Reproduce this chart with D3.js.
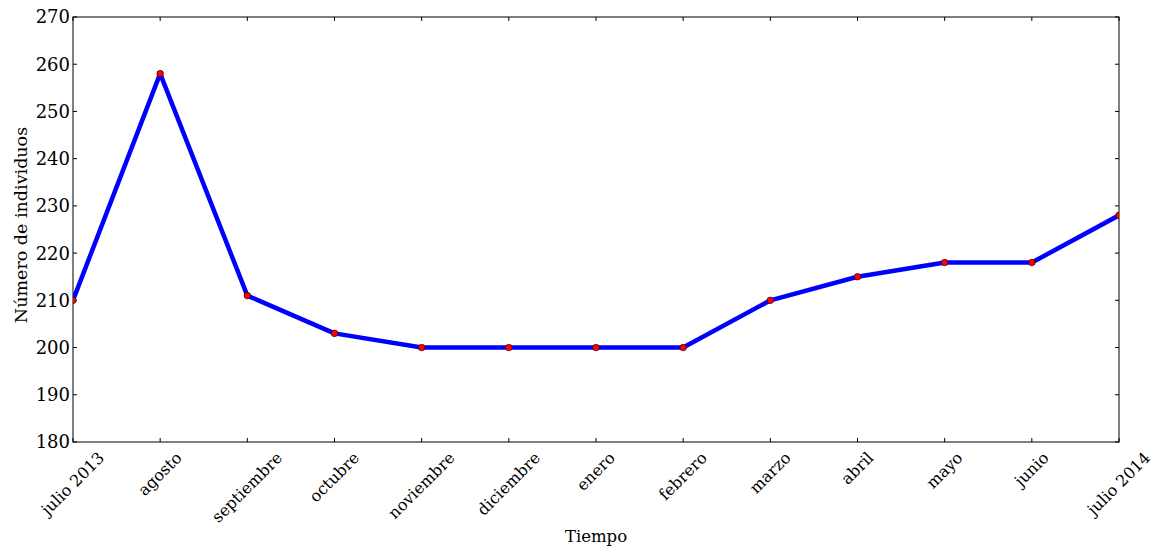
<!DOCTYPE html>
<html>
<head>
<meta charset="utf-8">
<script src="https://cdn.jsdelivr.net/npm/d3@7"></script>
<style>
  html, body { margin: 0; padding: 0; background: #fff; }
  svg { display: block; }
  text { font-family: "DejaVu Serif", serif; fill: #000; }
</style>
</head>
<body>
<svg id="chart" width="1154" height="548"></svg>
<script>
// Monthly head count, July 2013 – July 2014
const months = ["julio 2013", "agosto", "septiembre", "octubre", "noviembre",
  "diciembre", "enero", "febrero", "marzo", "abril", "mayo", "junio", "julio 2014"];
const individuals = [210, 258, 211, 203, 200, 200, 200, 200, 210, 215, 218, 218, 228];
const yTicks = [180, 190, 200, 210, 220, 230, 240, 250, 260, 270];

const W = 1154, H = 548;
const margin = { left: 73, top: 17, right: 35, bottom: 106 };
const iw = W - margin.left - margin.right;
const ih = H - margin.top - margin.bottom;

const svg = d3.select("#chart");
const g = svg.append("g").attr("transform", `translate(${margin.left},${margin.top})`);

const x = d3.scalePoint().domain(months).range([0, iw]);
const y = d3.scaleLinear().domain([180, 270]).range([ih, 0]);

svg.append("defs").append("clipPath").attr("id", "plotclip")
  .append("rect").attr("width", iw).attr("height", ih);

const tickLen = 4;
const yTickFont = 18;
const xTickFont = 16;

// Frame
g.append("rect").attr("width", iw).attr("height", ih)
  .attr("fill", "none").attr("stroke", "#000").attr("stroke-width", 1);

// Inward ticks on all four sides
const ticksG = g.append("g").attr("stroke", "#000").attr("stroke-width", 1);
months.forEach(m => {
  const px = x(m);
  ticksG.append("line").attr("x1", px).attr("x2", px).attr("y1", ih).attr("y2", ih - tickLen);
  ticksG.append("line").attr("x1", px).attr("x2", px).attr("y1", 0).attr("y2", tickLen);
});
yTicks.forEach(v => {
  const py = y(v);
  ticksG.append("line").attr("x1", 0).attr("x2", tickLen).attr("y1", py).attr("y2", py);
  ticksG.append("line").attr("x1", iw).attr("x2", iw - tickLen).attr("y1", py).attr("y2", py);
});

// Y tick labels
g.append("g").selectAll("text").data(yTicks).join("text")
  .attr("x", -3).attr("y", d => y(d)).attr("dy", "0.36em")
  .attr("text-anchor", "end").attr("font-size", yTickFont)
  .text(d => d);

// X tick labels, rotated 45°, box centred under each tick
const xl = g.append("g");
months.forEach(m => {
  const t = xl.append("text").attr("text-anchor", "middle")
    .attr("font-size", xTickFont).attr("dy", "0.32em").text(m);
  const w = t.node().getComputedTextLength();
  const h = xTickFont * 1.1;
  const half = (w + h) / (2 * Math.SQRT2);
  t.attr("transform", `translate(${x(m)},${ih + 7 + half}) rotate(-45)`);
});

// Series line and markers
const plot = g.append("g").attr("clip-path", "url(#plotclip)");
const line = d3.line().x((d, i) => x(months[i])).y(d => y(d));
plot.append("path").datum(individuals).attr("d", line)
  .attr("fill", "none").attr("stroke", "#0000ff").attr("stroke-width", 4.5)
  .attr("stroke-linejoin", "round");
plot.selectAll("circle").data(individuals).join("circle")
  .attr("cx", (d, i) => x(months[i])).attr("cy", d => y(d)).attr("r", 3.3)
  .attr("fill", "#ff0000").attr("stroke", "#000").attr("stroke-width", 0.6);

// Axis titles
svg.append("text").attr("x", margin.left + iw / 2).attr("y", 542)
  .attr("text-anchor", "middle").attr("font-size", 16.5).text("Tiempo");
svg.append("text").attr("transform", `translate(27,225) rotate(-90)`)
  .attr("text-anchor", "middle").attr("font-size", 17.5).text("Número de individuos");
</script>
</body>
</html>
